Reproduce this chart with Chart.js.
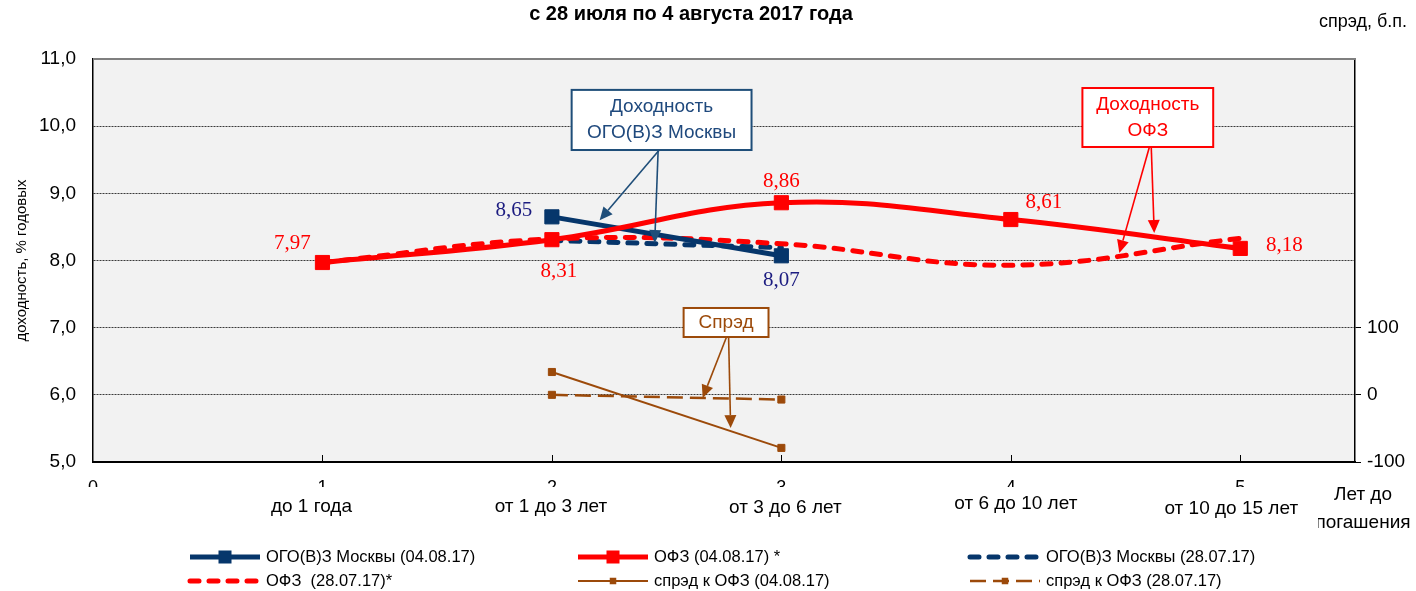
<!DOCTYPE html>
<html>
<head>
<meta charset="utf-8">
<script src="https://cdn.jsdelivr.net/npm/chart.js@4.4.1/dist/chart.umd.min.js"></script>
<style>
  html, body { margin: 0; padding: 0; background: #fff; }
</style>
</head>
<body>
<canvas id="chart" width="1416" height="591"></canvas>
<script>
// --- data ---
const terms = [1, 2, 3, 4, 5];
const termLabels = ['до 1 года', 'от 1 до 3 лет', 'от 3 до 6 лет', 'от 6 до 10 лет', 'от 10 до 15 лет'];
const mosTerms = [2, 3];

const ofzNew = [7.97, 8.31, 8.86, 8.61, 8.18];   // ОФЗ (04.08.17)
const ofzOld = [7.97, 8.32, 8.25, 7.93, 8.33];   // ОФЗ (28.07.17)
const mosNew = [8.65, 8.07];                     // ОГО(В)З Москвы (04.08.17)
const mosOld = [8.30, 8.19];                     // ОГО(В)З Москвы (28.07.17)
const spreadNew = [34, -79];                     // спрэд, б.п. (04.08.17)
const spreadOld = [0, -7];                       // спрэд, б.п. (28.07.17)

const yTicks = [5, 6, 7, 8, 9, 10, 11];
const y2Ticks = [-100, 0, 100];

const FONT = "'Liberation Sans', Arial, sans-serif";
const SERIF = "'Liberation Serif', 'Times New Roman', serif";
const RED = '#FF0000';
const NAVY = '#06366B';
const BROWN = '#9C4A0A';

function pts(xs, ys) {
  return xs.map((x, i) => ({ x: x, y: ys[i] }));
}

// callouts in data units: box [x1, x2, yTop, yBottom], arrows [fromX, fromY, toX, toY]
const callouts = [
  { lines: ['Доходность', 'ОГО(В)З Москвы'], color: '#1F4E79', text: '#1F497D',
    box: [2.086, 2.870, 10.54, 9.645],
    arrows: [[2.468, 9.645, 2.208, 8.60], [2.463, 9.645, 2.448, 8.26]] },
  { lines: ['Доходность', 'ОФЗ'], color: RED, text: RED,
    box: [4.312, 4.882, 10.568, 9.69],
    arrows: [[4.604, 9.69, 4.473, 8.11], [4.612, 9.69, 4.625, 8.41]] },
  { lines: ['Спрэд'], color: BROWN, text: BROWN,
    box: [2.574, 2.944, 7.293, 6.861],
    arrows: [[2.761, 6.861, 2.657, 5.953], [2.770, 6.861, 2.779, 5.506]] }
];

// value labels: dataset index, colour, offset from point
const valueLabels = [
  { ds: 1, color: RED, offsets: [[-30, -19], [7, 32], [0, -21], [33, -17], [44, -3]] },
  { ds: 0, color: '#1C1C80', offsets: [[-38, -6], [0, 25]] }
];

const termLabelShift = [[-11, 45], [-1, 45], [4, 46], [5, 42], [-9, 47]];

const chartBg = {
  id: 'chartBg',
  beforeDraw(chart) {
    const { ctx, chartArea: a } = chart;
    ctx.save();
    ctx.fillStyle = '#F2F2F2';
    ctx.fillRect(a.left, a.top, a.right - a.left, a.bottom - a.top);
    ctx.restore();
  }
};

function arrow(ctx, x1, y1, x2, y2, color) {
  const ang = Math.atan2(y2 - y1, x2 - x1);
  const len = 13, hw = 6;
  const bx = x2 - Math.cos(ang) * len, by = y2 - Math.sin(ang) * len;
  ctx.strokeStyle = color;
  ctx.fillStyle = color;
  ctx.lineWidth = 1.6;
  ctx.beginPath();
  ctx.moveTo(x1, y1);
  ctx.lineTo(bx, by);
  ctx.stroke();
  ctx.beginPath();
  ctx.moveTo(x2, y2);
  ctx.lineTo(bx + Math.sin(ang) * hw, by - Math.cos(ang) * hw);
  ctx.lineTo(bx - Math.sin(ang) * hw, by + Math.cos(ang) * hw);
  ctx.closePath();
  ctx.fill();
}

const extras = {
  id: 'extras',
  afterDatasetsDraw(chart) {
    const { ctx } = chart;
    const xs = chart.scales.x, ys = chart.scales.y;
    ctx.save();
    // value labels
    ctx.font = '21px ' + SERIF;
    ctx.textAlign = 'center';
    ctx.textBaseline = 'middle';
    valueLabels.forEach(l => {
      const meta = chart.getDatasetMeta(l.ds);
      const data = chart.data.datasets[l.ds].data;
      ctx.fillStyle = l.color;
      meta.data.forEach((p, j) => {
        const t = data[j].y.toFixed(2).replace('.', ',');
        ctx.fillText(t, p.x + l.offsets[j][0], p.y + l.offsets[j][1]);
      });
    });
    // callouts
    callouts.forEach(c => {
      const x1 = xs.getPixelForValue(c.box[0]), x2 = xs.getPixelForValue(c.box[1]);
      const y1 = ys.getPixelForValue(c.box[2]), y2 = ys.getPixelForValue(c.box[3]);
      c.arrows.forEach(a => {
        arrow(ctx, xs.getPixelForValue(a[0]), ys.getPixelForValue(a[1]),
          xs.getPixelForValue(a[2]), ys.getPixelForValue(a[3]), c.color);
      });
      ctx.fillStyle = '#FFFFFF';
      ctx.fillRect(x1, y1, x2 - x1, y2 - y1);
      ctx.strokeStyle = c.color;
      ctx.lineWidth = 2;
      ctx.strokeRect(x1, y1, x2 - x1, y2 - y1);
      ctx.fillStyle = c.text;
      ctx.font = '19px ' + FONT;
      const cx = (x1 + x2) / 2, cy = (y1 + y2) / 2;
      const lh = 26;
      c.lines.forEach((s, k) => {
        ctx.fillText(s, cx, cy + (k - (c.lines.length - 1) / 2) * lh);
      });
    });
    ctx.restore();
  },
  afterDraw(chart) {
    const { ctx, chartArea: a } = chart;
    const xs = chart.scales.x;
    ctx.save();
    // top frame line
    ctx.strokeStyle = '#7F7F7F';
    ctx.lineWidth = 2;
    ctx.beginPath();
    ctx.moveTo(a.left, a.top);
    ctx.lineTo(a.right, a.top);
    ctx.stroke();
    // inner tick marks on the x axis
    ctx.strokeStyle = '#000';
    ctx.lineWidth = 1;
    terms.forEach(t => {
      const px = Math.round(xs.getPixelForValue(t)) + 0.5;
      ctx.beginPath();
      ctx.moveTo(px, a.bottom);
      ctx.lineTo(px, a.bottom - 7);
      ctx.stroke();
    });
    // the numeric x ticks are cut off by the category labels
    ctx.fillStyle = '#FFFFFF';
    ctx.fillRect(60, 487, 1250, 12);
    // category labels
    ctx.fillStyle = '#000';
    ctx.font = '19px ' + FONT;
    ctx.textAlign = 'center';
    ctx.textBaseline = 'middle';
    terms.forEach((t, i) => {
      ctx.fillText(termLabels[i], xs.getPixelForValue(t) + termLabelShift[i][0], a.bottom + termLabelShift[i][1]);
    });
    ctx.fillText('Лет до', 1363, 495);
    ctx.save();
    ctx.beginPath();
    ctx.rect(1318, 508, 100, 30);
    ctx.clip();
    ctx.fillText('погашения', 1363, 523);
    ctx.restore();
    // title and right axis caption
    ctx.font = 'bold 20px ' + FONT;
    ctx.fillText('с 28 июля по 4 августа 2017 года', 691, 14);
    ctx.font = '18px ' + FONT;
    ctx.fillText('спрэд, б.п.', 1363, 22);
    // legend
    const cols = [190, 578, 970];
    const rows = [557, 581];
    ctx.font = '16.5px ' + FONT;
    ctx.textAlign = 'left';
    chart.data.datasets.forEach((d, i) => {
      const x0 = cols[i % 3], y0 = rows[Math.floor(i / 3)];
      ctx.save();
      ctx.strokeStyle = d.borderColor;
      ctx.lineWidth = d.borderWidth;
      ctx.setLineDash(d.borderDash || []);
      ctx.lineCap = d.borderCapStyle || 'butt';
      ctx.beginPath();
      ctx.moveTo(x0, y0);
      ctx.lineTo(x0 + 70, y0);
      ctx.stroke();
      if (d.pointRadius > 0) {
        const s = d.pointRadius * 1.3;
        ctx.fillStyle = d.borderColor;
        ctx.fillRect(x0 + 35 - s / 2, y0 - s / 2, s, s);
      }
      ctx.restore();
      ctx.fillStyle = '#000';
      ctx.fillText(d.label, x0 + 76, y0);
    });
    ctx.restore();
  }
};

const datasets = [
  { label: 'ОГО(В)З Москвы (04.08.17)', data: pts(mosTerms, mosNew), yAxisID: 'y',
    borderColor: NAVY, backgroundColor: NAVY, borderWidth: 5, tension: 0,
    pointStyle: 'rect', pointRadius: 10, pointBorderWidth: 1, order: 2 },
  { label: 'ОФЗ (04.08.17) *', data: pts(terms, ofzNew), yAxisID: 'y',
    borderColor: RED, backgroundColor: RED, borderWidth: 5, tension: 0.4,
    pointStyle: 'rect', pointRadius: 10, pointBorderWidth: 1, order: 1 },
  { label: 'ОГО(В)З Москвы (28.07.17)', data: pts(mosTerms, mosOld), yAxisID: 'y',
    borderColor: NAVY, backgroundColor: NAVY, borderWidth: 5, tension: 0,
    borderDash: [9, 10], borderCapStyle: 'round', pointRadius: 0, order: 4 },
  { label: 'ОФЗ  (28.07.17)*', data: pts(terms, ofzOld), yAxisID: 'y',
    borderColor: RED, backgroundColor: RED, borderWidth: 5, tension: 0.4,
    borderDash: [9, 10], borderCapStyle: 'round', pointRadius: 0, order: 3 },
  { label: 'спрэд к ОФЗ (04.08.17)', data: pts(mosTerms, spreadNew), yAxisID: 'y2',
    borderColor: BROWN, backgroundColor: BROWN, borderWidth: 2, tension: 0,
    pointStyle: 'rect', pointRadius: 5, pointBorderWidth: 1, order: 5 },
  { label: 'спрэд к ОФЗ (28.07.17)', data: pts(mosTerms, spreadOld), yAxisID: 'y2',
    borderColor: BROWN, backgroundColor: BROWN, borderWidth: 2.5, tension: 0,
    borderDash: [16, 7], pointStyle: 'rect', pointRadius: 5, pointBorderWidth: 1, order: 6 }
];

new Chart(document.getElementById('chart'), {
  type: 'line',
  data: { datasets: datasets },
  options: {
    responsive: false,
    animation: false,
    layout: { padding: { top: 59, left: 0, right: 0, bottom: 0 } },
    plugins: { legend: { display: false }, title: { display: false }, tooltip: { enabled: false } },
    elements: { point: { hoverRadius: 0 } },
    scales: {
      x: {
        type: 'linear', min: 0, max: 5.5,
        afterFit(s) { s.height = 129; },
        grid: { display: false, drawTicks: false },
        border: { display: true, color: '#000', width: 2 },
        ticks: { stepSize: 1, includeBounds: false, padding: 15, maxRotation: 0,
          color: '#000', font: { family: FONT, size: 18 },
          callback: v => String(v) }
      },
      y: {
        type: 'linear', position: 'left', min: yTicks[0], max: yTicks[yTicks.length - 1],
        afterFit(s) { s.width = 93; },
        grid: { drawTicks: false, lineWidth: 1,
          color: c => (c.tick && (c.tick.value === 5 || c.tick.value === 11)) ? 'rgba(0,0,0,0)' : '#3A3A3A' },
        border: { display: true, color: '#000', width: 1.5, dash: [2, 1] },
        ticks: { stepSize: 1, padding: 17, color: '#000', font: { family: FONT, size: 19 },
          callback: v => yTicks.includes(v) ? v.toFixed(1).replace('.', ',') : null },
        title: { display: true, text: 'доходность, % годовых', color: '#000',
          font: { family: FONT, size: 15 }, padding: { top: 13, bottom: 0 } }
      },
      y2: {
        type: 'linear', position: 'right', min: -100, max: 500,
        afterFit(s) { s.width = 61; },
        grid: { drawOnChartArea: false, drawTicks: true, tickLength: 6,
          tickColor: c => (c.tick && y2Ticks.includes(c.tick.value)) ? '#000' : 'rgba(0,0,0,0)' },
        border: { display: true, color: '#000', width: 1.5 },
        ticks: { stepSize: 100, padding: 6, color: '#000', font: { family: FONT, size: 19 },
          callback: v => y2Ticks.includes(v) ? String(v) : null }
      }
    }
  },
  plugins: [chartBg, extras]
});
</script>
</body>
</html>
